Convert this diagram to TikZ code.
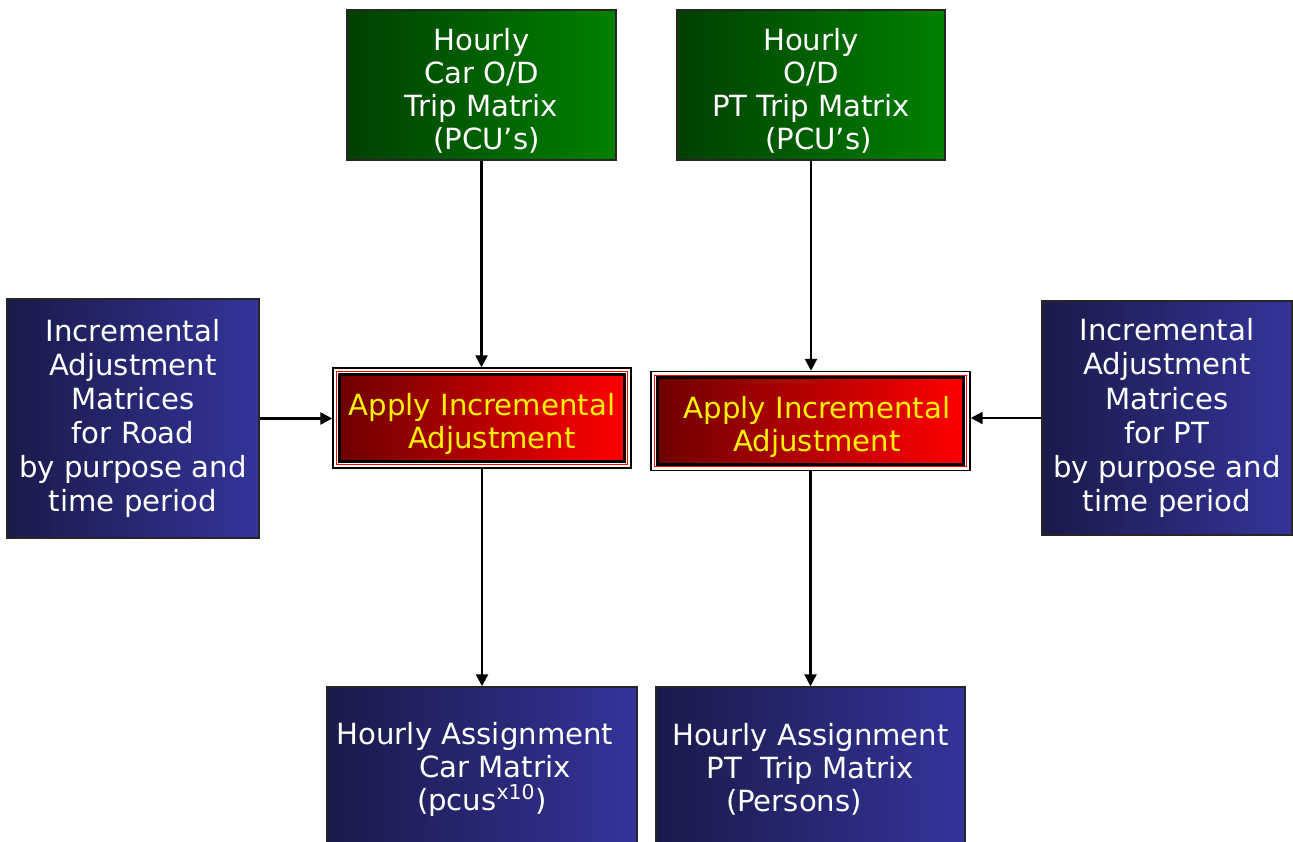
\documentclass[tikz,border=0pt]{standalone}
\usepackage{fontspec}
\setmainfont{DejaVu Sans}
\usetikzlibrary{arrows.meta,fit}

\definecolor{greenL}{HTML}{004000}
\definecolor{greenR}{HTML}{008000}
\definecolor{blueL}{HTML}{1A1A4A}
\definecolor{blueR}{HTML}{34349A}
\definecolor{redL}{HTML}{6E0000}
\definecolor{redR}{HTML}{FF0000}

\newcommand\lift{\rule{0pt}{0.68cm}}

\begin{document}
\begin{tikzpicture}[x=0.02cm,y=-0.02cm,
	box/.style={draw=black!85, line width=0.03cm, text=white, align=center, inner sep=0pt,
		font=\fontsize{16.6}{18.8}\selectfont},
	greenbox/.style={box, left color=greenL, right color=greenR},
	bluebox/.style={box, left color=blueL, right color=blueR},
	sidebox/.style={bluebox, font=\fontsize{16.6}{19.4}\selectfont},
	redbox/.style={box, draw=black, line width=0.06cm, text=yellow, left color=redL, right color=redR},
	frame/.style={draw=black, line width=0.03cm, inner sep=0.09cm, outer sep=0.015cm},
	flow/.style={line width=0.05cm, -{Triangle[length=0.24cm,width=0.24cm]}}]

	\useasboundingbox (0,0) rectangle (1293,841);

	% inputs
	\node[greenbox, minimum width=5.38cm, minimum height=3cm] (carOD) at (481.5,85) {\lift Hourly\\Car O/D\\Trip Matrix\\\hspace*{0.2cm}(PCU’s)};
	\node[greenbox, minimum width=5.36cm, minimum height=3cm] (ptOD) at (811,85) {\lift Hourly\\O/D\\PT Trip Matrix\\\hspace*{0.3cm}(PCU’s)};
	\node[sidebox, minimum width=5.04cm, minimum height=4.78cm] (roadAdj) at (133,418.5) {Incremental\\Adjustment\\Matrices\\for Road\hspace*{1cm}\\by purpose and\\time period};
	\node[sidebox, minimum width=5cm, minimum height=4.68cm] (ptAdj) at (1167,418) {Incremental\\Adjustment\\Matrices\\for PT\\by purpose and\\time period};

	% adjustment steps
	\node[redbox, minimum width=5.72cm, minimum height=1.76cm] (applyCar) at (482,418) {\lift Apply Incremental\\\hspace*{0.4cm}Adjustment};
	\node[redbox, minimum width=6.14cm, minimum height=1.74cm] (applyPT) at (810.5,421) {\lift\hspace*{0.26cm}Apply Incremental\\\hspace*{0.26cm}Adjustment};
	\foreach \n in {applyCar,applyPT}{
		\draw[red, line width=0.02cm] ([shift={(-1,-1)}]\n.north west) rectangle ([shift={(1,1)}]\n.south east);
		\node[frame, fit=(\n)] (\n F) {};
	}

	% outputs
	\node[bluebox, minimum width=6.2cm, minimum height=3.28cm] (carAsg) at (482,769) {Hourly Assignment\hspace*{0.28cm}\\\hspace*{0.52cm}Car Matrix\\(pcus\textsuperscript{x10})};
	\node[bluebox, minimum width=6.18cm, minimum height=3.28cm] (ptAsg) at (810.5,769) {Hourly Assignment\\PT\ \ Trip Matrix\hspace*{0.74cm}\\(Persons)\hspace*{0.66cm}};

	\draw[flow] (carOD.south) -- (carOD.south |- applyCarF.north);
	\draw[flow] (applyCarF.south) -- (carAsg.north);
	\draw[flow] (roadAdj.east) -- (roadAdj.east -| applyCarF.west);
	\draw[flow] (ptOD.south) -- (ptOD.south |- applyPTF.north);
	\draw[flow] (applyPTF.south) -- (ptAsg.north);
	\draw[flow] (ptAdj.west) -- (ptAdj.west -| applyPTF.east);

\end{tikzpicture}
\end{document}
